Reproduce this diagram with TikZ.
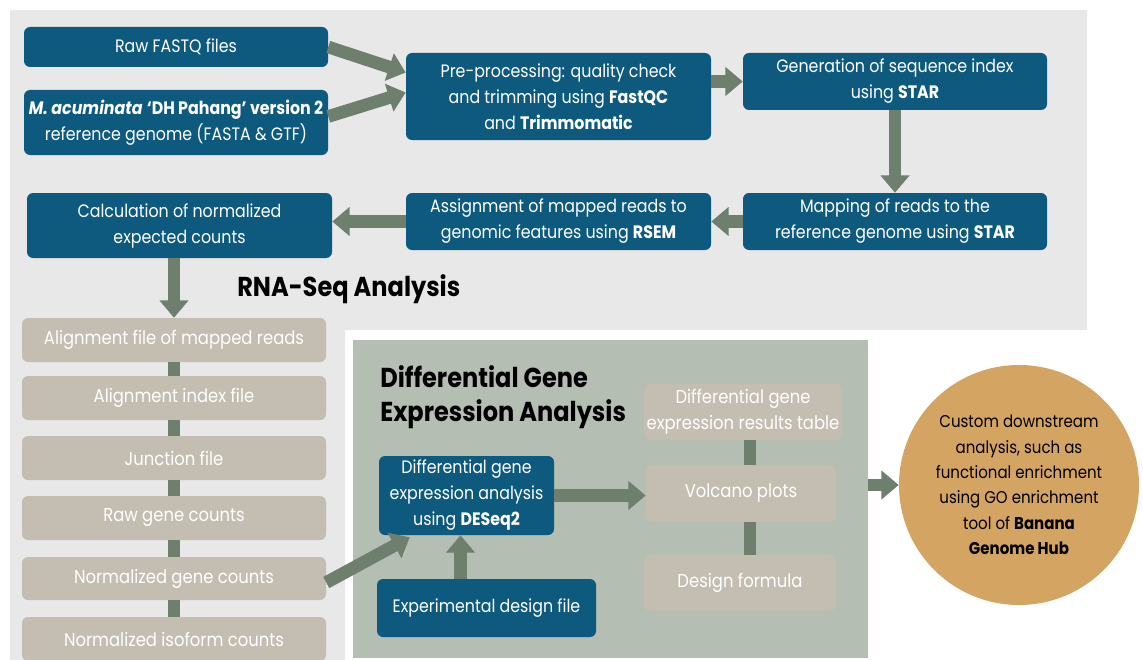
\documentclass[tikz,border=0pt]{standalone}
\usepackage{fontspec}
\setmainfont{Poppins}[FakeStretch=0.88]
\usetikzlibrary{arrows.meta,calc}
\definecolor{panelgray}{HTML}{E8E8E8}
\definecolor{dgegreen}{HTML}{B5BEB2}
\definecolor{dkblue}{HTML}{0E5A7F}
\definecolor{beige}{HTML}{C4BDB1}
\definecolor{arrgreen}{HTML}{6E7F6E}
\definecolor{ochre}{HTML}{D4A462}
\tikzset{
  bluebox/.style={rectangle, rounded corners=4.5pt, fill=dkblue, text=white, align=center, inner sep=2pt},
  beigebox/.style={rectangle, rounded corners=4.5pt, fill=beige, text=white, align=center, inner sep=2pt, font=\fontsize{14}{19.5}\selectfont},
  arr/.style={draw=arrgreen, line width=9.5pt, -{Triangle[width=21pt,length=13pt]}},
  bar/.style={draw=arrgreen, line width=9.5pt},
  title/.style={font=\fontsize{20.5}{26}\selectfont\bfseries, text=black, align=left, inner sep=0pt}
}
\begin{document}
\begin{tikzpicture}[x=0.75pt,y=-0.75pt, font=\fontsize{13.5}{19.5}\selectfont]
\useasboundingbox (0,0) rectangle (1143,660);
\clip (0,0) rectangle (1143,660);
% panels
\fill[panelgray] (10,10) -- (1087,10) -- (1087,330) -- (345,330) -- (345,660) -- (10,660) -- cycle;
\node[fill=dgegreen, minimum width=386.25pt, minimum height=238.5pt, inner sep=0pt] (dge) at (610.5,499) {};

% top flow
\node[bluebox, minimum width=228pt, minimum height=30pt] (raw) at (176,47) {Raw FASTQ files};
\node[bluebox, minimum width=228pt, minimum height=48.75pt] (ref) at (176,122.5)
  {\textbf{\textit{M. acuminata}} \textbf{‘DH Pahang’ version 2}\\reference genome (FASTA \& GTF)};
\node[bluebox, minimum width=228.75pt, minimum height=65.25pt] (pre) at (558.5,96.5)
  {Pre-processing: quality check\\and trimming using \textbf{FastQC}\\and \textbf{Trimmomatic}};
\node[bluebox, minimum width=228pt, minimum height=42.75pt] (gen) at (895,81.5)
  {Generation of sequence index\\using \textbf{STAR}};
\node[bluebox, minimum width=228pt, minimum height=42.75pt] (map) at (895,221.5)
  {Mapping of reads to the\\reference genome using \textbf{STAR}};
\node[bluebox, minimum width=228.75pt, minimum height=42.75pt] (asg) at (558.5,221.5)
  {Assignment of mapped reads to\\genomic features using \textbf{RSEM}};
\node[bluebox, minimum width=228.75pt, minimum height=48.75pt] (calc) at (179.5,225.5)
  {Calculation of normalized\\expected counts};
\node[title, anchor=west] (rnat) at (237,289) {RNA-Seq Analysis};

% left column
\node[beigebox, minimum width=228pt, minimum height=33pt] (a1) at (174,340) {Alignment file of mapped reads};
\node[beigebox, minimum width=228pt, minimum height=33pt] (a2) at (174,398) {Alignment index file};
\node[beigebox, minimum width=228pt, minimum height=33pt] (a3) at (174,458) {Junction file};
\node[beigebox, minimum width=228pt, minimum height=33pt] (a4) at (174,518) {Raw gene counts};
\node[beigebox, minimum width=228pt, minimum height=32.25pt] (a5) at (174,578.5) {Normalized gene counts};
\node[beigebox, minimum width=228pt, minimum height=33pt] (a6) at (174,639) {Normalized isoform counts};

% DGE panel content
\node[title, anchor=north west] (dget) at (380,365) {Differential Gene\\Expression Analysis};
\node[bluebox, minimum width=131.25pt, minimum height=59.25pt] (deseq) at (466.5,495.5)
  {Differential gene\\expression analysis\\using \textbf{DESeq2}};
\node[bluebox, minimum width=164.25pt, minimum height=43.5pt] (exp) at (486.5,608) {Experimental design file};
\node[beigebox, minimum width=142.5pt, minimum height=42pt] (res) at (743,412)
  {Differential gene\\expression results table};
\node[beigebox, minimum width=142.5pt, minimum height=42.75pt] (volc) at (741,493.5) {Volcano plots};
\node[beigebox, minimum width=144pt, minimum height=42pt] (dform) at (740,583) {Design formula};

% circle
\node[circle, fill=ochre, minimum size=180pt, inner sep=0pt, align=center, text=black,
      font=\fontsize{12.8}{19}\selectfont] (circ) at (1019,485)
  {Custom downstream\\analysis, such as\\functional enrichment\\using GO enrichment\\tool of \textbf{Banana}\\\textbf{Genome Hub}};

% connectors
\draw[arr] (raw.east) -- ($(pre.west)+(0,-24)$);
\draw[arr] ($(ref.east)+(0,-6)$) -- ($(pre.west)+(0,-4)$);
\draw[arr] (pre.east |- gen.west) -- (gen.west);
\draw[arr] (gen.south) -- (map.north);
\draw[arr] (map.west) -- (asg.east);
\draw[arr] (asg.west) -- (asg.west -| calc.east);
\draw[arr] (calc.south -| a1.north) -- (a1.north);
\draw[bar] (a1.south) -- (a2.north);
\draw[bar] (a2.south) -- (a3.north);
\draw[bar] (a3.south) -- (a4.north);
\draw[bar] (a4.south) -- (a5.north);
\draw[bar] (a5.south) -- (a6.north);
\draw[arr] ($(a5.east)+(0,4)$) -- ($(deseq.south west)+(31,2)$);
\coordinate (ex) at ($(exp.north)+(-26,0)$);
\draw[arr] (ex) -- (ex |- deseq.south);
\draw[arr] (deseq.east) -- (deseq.east -| volc.west);
\coordinate (bx) at (750,0);
\draw[bar] (res.south -| bx) -- (volc.north -| bx);
\draw[bar] (volc.south -| bx) -- (dform.north -| bx);
\draw[arr] (circ.west -| dge.east) -- (circ.west);
\end{tikzpicture}
\end{document}
